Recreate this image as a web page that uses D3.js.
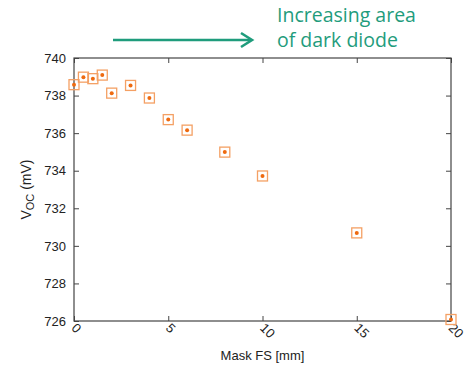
<!DOCTYPE html>
<html>
<head>
<meta charset="utf-8">
<script src="https://cdn.jsdelivr.net/npm/d3@7"></script>
<style>
body { margin: 0; background: #fff; }
text { font-family: "Liberation Sans", Arial, sans-serif; }
</style>
</head>
<body>
<svg id="chart"></svg>
<script>
var width = 464, height = 367;
var margin = {top: 58, right: 13, bottom: 46, left: 74};

// Mask FS [mm] vs Voc [mV]
var maskFS = [0, 0.5, 1, 1.5, 2, 3, 4, 5, 6, 8, 10, 15, 20];
var voc = [738.58, 738.98, 738.9, 739.09, 738.13, 738.54, 737.87, 736.72, 736.16, 734.99, 733.72, 730.69, 726.08];
var xTicks = [0, 5, 10, 15, 20];
var yTicks = [726, 728, 730, 732, 734, 736, 738, 740];

var svg = d3.select('#chart')
	.attr('width', width)
	.attr('height', height);

var x = d3.scaleLinear()
	.domain([0, 20])
	.range([margin.left, width - margin.right]);

var y = d3.scaleLinear()
	.domain([726, 740])
	.range([height - margin.bottom, margin.top]);

var axisColor = '#444';

// frame
svg.append('rect')
	.attr('x', x(0))
	.attr('y', y(740))
	.attr('width', x(20) - x(0))
	.attr('height', y(726) - y(740))
	.attr('fill', 'none')
	.attr('stroke', axisColor)
	.attr('stroke-width', 1.2);

// x axis: ticks inward, on bottom and top
var xAxis = svg.append('g')
	.attr('transform', 'translate(0,' + y(726) + ')')
	.call(d3.axisBottom(x).tickValues(xTicks).tickSize(-5).tickPadding(8).tickFormat(d3.format('d')))
	.call(g => g.select('.domain').remove());
xAxis.selectAll('.tick line').attr('stroke', axisColor);
xAxis.selectAll('.tick text')
	.attr('font-size', 13)
	.attr('fill', '#222')
	.attr('text-anchor', 'start')
	.attr('dy', 0)
	.attr('transform', 'translate(2,2) rotate(45)');

svg.append('g')
	.attr('transform', 'translate(0,' + y(740) + ')')
	.call(d3.axisTop(x).tickValues(xTicks).tickSize(-5).tickFormat(''))
	.call(g => g.select('.domain').remove())
	.selectAll('.tick line').attr('stroke', axisColor);

// y axis: ticks inward, on left and right
var yAxis = svg.append('g')
	.attr('transform', 'translate(' + x(0) + ',0)')
	.call(d3.axisLeft(y).tickValues(yTicks).tickSize(-5).tickPadding(8))
	.call(g => g.select('.domain').remove());
yAxis.selectAll('.tick line').attr('stroke', axisColor);
yAxis.selectAll('.tick text').attr('font-size', 13).attr('fill', '#222');

svg.append('g')
	.attr('transform', 'translate(' + x(20) + ',0)')
	.call(d3.axisRight(y).tickValues(yTicks).tickSize(-5).tickFormat(''))
	.call(g => g.select('.domain').remove())
	.selectAll('.tick line').attr('stroke', axisColor);

// axis labels
svg.append('text')
	.attr('x', (x(0) + x(20)) / 2)
	.attr('y', 360)
	.attr('text-anchor', 'middle')
	.attr('font-size', 13)
	.attr('fill', '#222')
	.text('Mask FS [mm]');

var yLab = svg.append('text')
	.attr('transform', 'translate(31,' + ((y(726) + y(740)) / 2) + ') rotate(-90)')
	.attr('text-anchor', 'middle')
	.attr('font-size', 14)
	.attr('fill', '#222');
yLab.append('tspan').text('V');
yLab.append('tspan').attr('font-size', 11).attr('dy', 3).text('OC');
yLab.append('tspan').attr('dy', -3).text(' (mV)');

// data points
var pts = svg.append('g')
	.selectAll('g')
	.data(maskFS.map((d, i) => [d, voc[i]]))
	.join('g')
	.attr('transform', d => 'translate(' + x(d[0]) + ',' + y(d[1]) + ')');
pts.append('rect')
	.attr('x', -5)
	.attr('y', -5)
	.attr('width', 10)
	.attr('height', 10)
	.attr('fill', 'none')
	.attr('stroke', '#f4a064')
	.attr('stroke-width', 1.3);
pts.append('circle')
	.attr('r', 2)
	.attr('fill', '#ee6a10');

// annotation
var green = '#1f9c7c';
svg.append('line')
	.attr('x1', 113)
	.attr('x2', 251)
	.attr('y1', 40)
	.attr('y2', 40)
	.attr('stroke', green)
	.attr('stroke-width', 2.6);
svg.append('path')
	.attr('d', 'M241,33 L252,40 L241,47')
	.attr('fill', 'none')
	.attr('stroke', green)
	.attr('stroke-width', 2.6);

var ann = svg.append('text')
	.attr('font-size', 19.5)
	.attr('fill', green)
	.style('font-family', '"Open Sans", "Noto Sans", sans-serif');
ann.append('tspan').attr('x', 277).attr('y', 22).text('Increasing area');
ann.append('tspan').attr('x', 277).attr('y', 47).text('of dark diode');
</script>
</body>
</html>
